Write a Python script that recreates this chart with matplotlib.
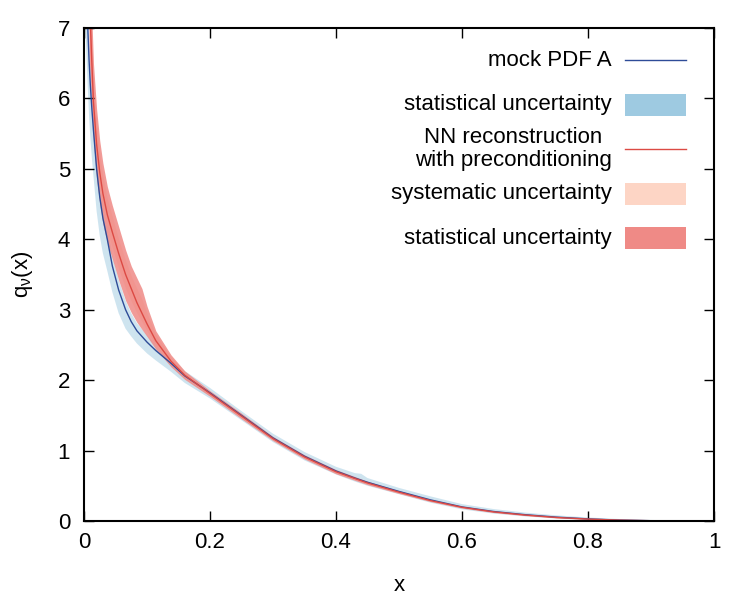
import numpy as np
import matplotlib
matplotlib.use("Agg")
import matplotlib.pyplot as plt
from matplotlib.lines import Line2D
from matplotlib.patches import Rectangle

plt.rcParams['font.family'] = ['Liberation Sans', 'DejaVu Sans']
plt.rcParams['mathtext.fontset'] = 'custom'
plt.rcParams['mathtext.rm'] = 'Liberation Sans'
plt.rcParams['mathtext.it'] = 'Liberation Sans'
plt.rcParams['mathtext.default'] = 'regular'

# mock PDF A (blue) with its statistical band
x_mock = np.array([0.002, 0.004, 0.006, 0.008, 0.01, 0.0125, 0.015, 0.02, 0.025, 0.03,
                   0.037, 0.045, 0.055, 0.066, 0.075, 0.084, 0.1, 0.114, 0.138, 0.16,
                   0.2, 0.25, 0.3, 0.35, 0.4, 0.43, 0.44, 0.45, 0.5, 0.55,
                   0.6, 0.65, 0.7, 0.75, 0.8, 0.85, 0.9, 0.95, 1.0])
mock = np.array([8.3, 7.6, 7.0, 6.55, 6.2, 5.85, 5.55, 5.0, 4.6, 4.3,
                 4.0, 3.62, 3.28, 3.0, 2.83, 2.7, 2.54, 2.42, 2.24, 2.06,
                 1.82, 1.5, 1.18, 0.92, 0.71, 0.61, 0.58, 0.55, 0.42, 0.3,
                 0.2, 0.135, 0.09, 0.055, 0.03, 0.013, 0.004, 0.0008, 0.0])
mock_lo = np.array([7.1, 6.6, 6.15, 5.75, 5.45, 5.15, 4.9, 4.4, 4.05, 3.8,
                    3.55, 3.25, 2.95, 2.73, 2.62, 2.52, 2.38, 2.28, 2.12, 1.96,
                    1.74, 1.43, 1.12, 0.86, 0.66, 0.56, 0.53, 0.5, 0.38, 0.26,
                    0.165, 0.105, 0.065, 0.035, 0.015, 0.003, 0.0, 0.0, 0.0])
mock_hi = np.array([8.9, 8.1, 7.4, 6.9, 6.5, 6.15, 5.8, 5.25, 4.82, 4.5,
                    4.18, 3.78, 3.43, 3.13, 2.95, 2.81, 2.64, 2.51, 2.32, 2.13,
                    1.89, 1.56, 1.24, 0.98, 0.77, 0.68, 0.67, 0.61, 0.47, 0.35,
                    0.24, 0.17, 0.12, 0.08, 0.05, 0.028, 0.015, 0.006, 0.002])

# NN reconstruction (red) with systematic and statistical bands
x_nn = np.array([0.008, 0.01, 0.0125, 0.015, 0.02, 0.025, 0.03, 0.037, 0.045, 0.055,
                 0.066, 0.075, 0.084, 0.092, 0.1, 0.114, 0.138, 0.16, 0.2, 0.25,
                 0.3, 0.35, 0.4, 0.45, 0.5, 0.55, 0.6, 0.65, 0.7, 0.75,
                 0.8, 0.85, 0.9, 0.95, 1.0])
nn = np.array([7.5, 7.1, 6.5, 5.95, 5.35, 4.95, 4.65, 4.35, 4.1, 3.8,
               3.5, 3.3, 3.1, 2.95, 2.8, 2.56, 2.27, 2.07, 1.81, 1.49,
               1.17, 0.91, 0.7, 0.54, 0.41, 0.29, 0.195, 0.13, 0.085, 0.05,
               0.027, 0.012, 0.004, 0.001, 0.0])
nn_sys_lo = np.array([6.9, 6.55, 6.1, 5.6, 5.05, 4.7, 4.4, 4.12, 3.88, 3.58,
                      3.3, 3.12, 2.95, 2.83, 2.7, 2.5, 2.23, 2.04, 1.79, 1.47,
                      1.155, 0.895, 0.685, 0.527, 0.4, 0.283, 0.189, 0.125, 0.081, 0.047,
                      0.025, 0.011, 0.003, 0.0, 0.0])
nn_sys_hi = np.array([8.1, 7.6, 6.9, 6.3, 5.65, 5.2, 4.9, 4.58, 4.32, 4.0,
                      3.7, 3.48, 3.3, 3.15, 2.95, 2.65, 2.33, 2.11, 1.83, 1.51,
                      1.19, 0.93, 0.72, 0.555, 0.42, 0.3, 0.2, 0.135, 0.09, 0.053,
                      0.03, 0.014, 0.005, 0.002, 0.0])
nn_stat_lo = np.array([6.6, 6.3, 5.85, 5.4, 4.85, 4.5, 4.22, 3.95, 3.72, 3.42,
                       3.13, 2.96, 2.82, 2.72, 2.62, 2.44, 2.19, 2.01, 1.77, 1.45,
                       1.14, 0.88, 0.67, 0.515, 0.39, 0.275, 0.183, 0.12, 0.077, 0.044,
                       0.022, 0.009, 0.002, 0.0, 0.0])
nn_stat_hi = np.array([8.4, 7.9, 7.15, 6.5, 5.85, 5.4, 5.08, 4.75, 4.48, 4.18,
                       3.85, 3.62, 3.45, 3.3, 3.05, 2.7, 2.36, 2.13, 1.85, 1.53,
                       1.2, 0.94, 0.73, 0.565, 0.43, 0.305, 0.207, 0.14, 0.093, 0.056,
                       0.032, 0.015, 0.006, 0.002, 0.0])

labels = ["mock PDF A", "statistical uncertainty",
          "NN reconstruction\nwith preconditioning",
          "systematic uncertainty", "statistical uncertainty"]

c_blue_line = "#2e4c98"
c_blue_band = "#9ecae1"
c_red_line = "#dc4a44"
c_sys = "#fdd5c5"
c_stat = "#ef8a86"

fig = plt.figure(figsize=(7.5, 6), dpi=100)
ax = fig.add_axes([84 / 750, 79 / 600, 630 / 750, 493 / 600])

ax.fill_between(x_mock, mock_lo, mock_hi, color=c_blue_band, alpha=0.5, lw=0)
ax.fill_between(x_nn, nn_sys_lo, nn_sys_hi, color=c_sys, lw=0)
ax.fill_between(x_nn, nn_stat_lo, nn_stat_hi, color=c_stat, alpha=0.85, lw=0)
ax.plot(x_mock, mock, color=c_blue_line, lw=1.0)
ax.plot(x_nn, nn, color=c_red_line, lw=1.0)

ax.set_xlim(0, 1)
ax.set_ylim(0, 7)
ax.set_xticks([0, 0.2, 0.4, 0.6, 0.8, 1])
ax.set_xticklabels(["0", "0.2", "0.4", "0.6", "0.8", "1"])
ax.set_yticks(range(8))
ax.tick_params(direction="in", top=True, right=True, length=7, width=1.0,
               labelsize=16)
ax.tick_params(axis="x", pad=8)
ax.tick_params(axis="y", pad=10)
for s in ax.spines.values():
    s.set_linewidth(1.5)

ax.set_xlabel("x", fontsize=16, labelpad=16)
ax.set_ylabel(r"q$_{\nu}$(x)", fontsize=16, labelpad=16)

# gnuplot style key: text right aligned, sample on the right
row_y = [0.935, 0.844, 0.755, 0.664, 0.574]
kinds = ["line", "band", "line", "band", "band"]
colors = [c_blue_line, c_blue_band, c_red_line, c_sys, c_stat]
for lab, yy, kind, col in zip(labels, row_y, kinds, colors):
    ax.text(0.838, yy, lab, transform=ax.transAxes, ha="right", va="center",
            fontsize=16, multialignment="center", linespacing=1.1)
    if kind == "line":
        ax.add_line(Line2D([0.859, 0.956], [yy, yy], transform=ax.transAxes,
                           color=col, lw=1.0))
    else:
        ax.add_patch(Rectangle((0.859, yy - 0.0225), 0.097, 0.045,
                               transform=ax.transAxes, color=col, lw=0))

fig.savefig("out.png", dpi=100)
